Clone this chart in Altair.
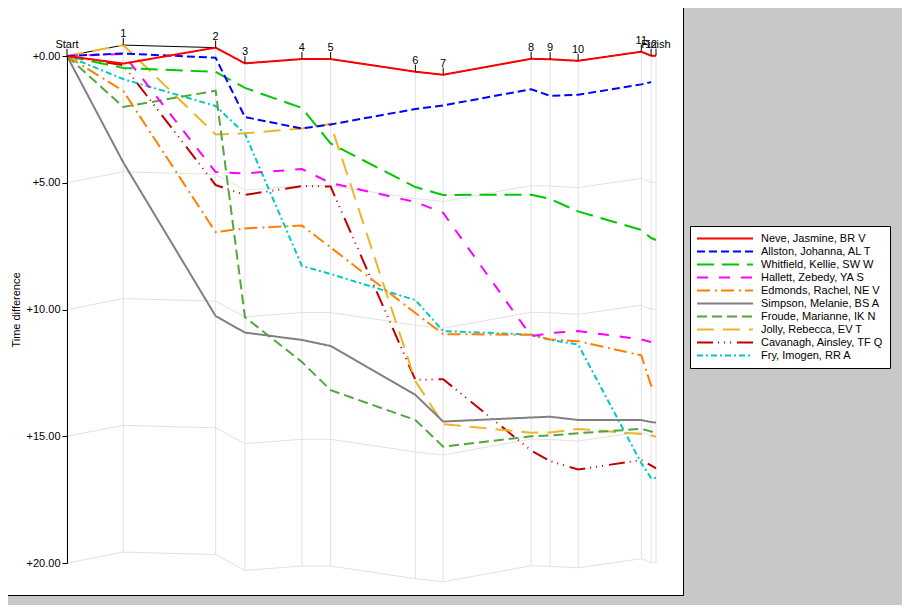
import altair as alt
import pandas as pd

# ---------------- data ----------------
controls = ["Start", "1", "2", "3", "4", "5", "6", "7", "8", "9", "10", "11", "12", "Finish"]
# cumulative reference time (minutes) at each control
ref_minutes = [0, 5.63, 14.87, 17.80, 23.50, 26.37, 34.85, 37.63, 46.43, 48.33, 51.13, 57.45, 58.43, 58.92]

runners = [
    "Neve, Jasmine, BR V",
    "Allston, Johanna, AL T",
    "Whitfield, Kellie, SW W",
    "Hallett, Zebedy, YA S",
    "Edmonds, Rachel, NE V",
    "Simpson, Melanie, BS A",
    "Froude, Marianne, IK N",
    "Jolly, Rebecca, EV T",
    "Cavanagh, Ainsley, TF Q",
    "Fry, Imogen, RR A",
]

# time difference (minutes) at each control; None = no time recorded
neve      = [0, 0.30, -0.33, 0.29, 0.12, 0.12, 0.62, 0.74, 0.11, 0.13, 0.19, -0.17, -0.01, -0.01]
allston   = [0, -0.10, 0.07, 2.41, 2.86, 2.70, 2.09, 1.95, 1.31, 1.57, 1.53, 1.12, 1.03, None]
whitfield = [0, 0.47, 0.63, 1.26, 2.05, 3.45, 5.17, 5.48, 5.47, 5.64, 6.13, 6.86, 7.18, 7.26]
hallett   = [0, -0.08, 4.58, 4.63, 4.46, 5.01, 5.76, 6.19, 11.05, 10.93, 10.85, 11.18, 11.28, None]
edmonds   = [0, 1.38, 6.95, 6.80, 6.69, 7.55, 10.14, 10.97, 11.00, 11.18, 11.25, 11.81, 13.00, 13.04]
simpson   = [0, 4.20, 10.26, 10.91, 11.20, 11.44, 13.37, 14.42, 14.26, 14.23, 14.36, 14.36, 14.44, 14.46]
froude    = [0, 2.01, 1.37, 10.30, 12.07, 13.18, 14.36, 15.41, 15.00, 14.97, 14.88, 14.71, 14.81, 14.85]
jolly     = [0, -0.43, 3.10, 3.05, 2.86, 2.68, 12.82, 14.52, 14.86, 14.85, 14.71, 14.91, 14.97, 15.02]
cavanagh  = [0, 0.36, 5.09, 5.48, 5.13, 5.15, 12.78, 12.75, 15.56, 15.98, 16.31, 15.94, 16.15, 16.27]
fry       = [0, 0.91, 1.97, 3.07, 8.28, 8.60, 9.63, 10.85, 10.99, 11.20, 11.38, 16.06, 16.65, 16.65]

series = [neve, allston, whitfield, hallett, edmonds, simpson, froude, jolly, cavanagh, fry]

colors = ["#ff0000", "#0000ff", "#00c800", "#ff00ff", "#ff8000",
          "#808080", "#4fa83d", "#f0b428", "#c00000", "#00c8c8"]
dashes = [[1, 0], [8, 4], [17, 8], [11, 11], [13, 5, 2, 4],
          [1, 0], [10, 5], [17, 9], [16, 5, 1, 5, 1, 5, 1, 6], [6, 3, 2, 3]]

y_ticks = [0, 5, 10, 15, 20]

FONT = "Liberation Sans"
GRID = "#e2e2e2"
TICK_LEN = 0.28

# ---------------- tables ----------------
rows = []
for order, (name, vals) in enumerate(zip(runners, series)):
    for c, r, v in zip(controls, ref_minutes, vals):
        if v is not None:
            rows.append({"runner": name, "control": c, "ref": r, "t": v, "ord": order})
lines_df = pd.DataFrame(rows)
# draw the first runner last (on top)
lines_df = lines_df.sort_values(["ord", "ref"], ascending=[False, True]).reset_index(drop=True)

base = lines_df.groupby("ref")["t"].min()
ctrl_df = pd.DataFrame({"control": controls, "ref": ref_minutes})
ctrl_df["t"] = ctrl_df["ref"].map(base)
ctrl_df["t20"] = ctrl_df["t"] + 20
ctrl_df["ttick"] = ctrl_df["t"] - TICK_LEN

grid_rows = []
for k in range(5):
    for r, b in zip(ctrl_df["ref"], ctrl_df["t"]):
        grid_rows.append({"ref": r, "t": b + 5 * k, "k": k})
grid_df = pd.DataFrame(grid_rows)

# ---------------- encodings ----------------
xscale = alt.Scale(domain=[0, ref_minutes[-1]], nice=False, zero=False)
yscale = alt.Scale(domain=[0, 20], reverse=True, nice=False, zero=False)

X = alt.X("ref:Q", scale=xscale,
          axis=alt.Axis(orient="top", title="Leg", labels=False, ticks=False, domain=False,
                        grid=False, titleX=274, titleY=-43, titleBaseline="middle",
                        titleFont=FONT, titleFontSize=11, titleFontWeight="normal",
                        titleColor="black"))
Y = alt.Y("t:Q", scale=yscale,
          axis=alt.Axis(values=y_ticks, labelExpr="'+' + format(datum.value, '.2f')",
                        grid=False, tickSize=5, tickColor="black", domainColor="black",
                        labelColor="black", labelFont=FONT, labelFontSize=11, labelPadding=2,
                        title="Time difference", titleFont=FONT, titleFontSize=11,
                        titleFontWeight="normal", titleColor="black", titleX=-48,
                        titleBaseline="alphabetic", zindex=1))

one = pd.DataFrame({"a": [0]})
bg = alt.Chart(one).mark_rect(
    fill="white", stroke="black", strokeWidth=1
).encode(x=alt.value(-60), x2=alt.value(616.5), y=alt.value(-49), y2=alt.value(539.5))

vgrid = alt.Chart(ctrl_df).mark_rule(color=GRID, strokeWidth=1).encode(
    x=X, y=Y, y2=alt.Y2("t20:Q"))

hgrid = alt.Chart(grid_df[grid_df["k"] > 0]).mark_line(color=GRID, strokeWidth=1).encode(
    x=X, y=Y, detail="k:N")

zero_line = alt.Chart(grid_df[grid_df["k"] == 0]).mark_line(color="black", strokeWidth=1).encode(
    x=X, y=Y)

ticks = alt.Chart(ctrl_df).mark_rule(color="black", strokeWidth=1).encode(
    x=X, y=Y, y2=alt.Y2("ttick:Q"))

legend_kw = dict(orient="none", legendX=623, legendY=170, title=None, padding=6,
                 fillColor="white", strokeColor="black", symbolType="stroke",
                 symbolSize=3136, symbolStrokeWidth=2, clipHeight=13,
                 labelFont=FONT, labelFontSize=11, labelColor="black", labelOffset=7,
                 rowPadding=0, labelLimit=300)

runs = alt.Chart(lines_df).mark_line(strokeWidth=2).encode(
    x=X, y=Y,
    color=alt.Color("runner:N", scale=alt.Scale(domain=runners, range=colors),
                    legend=alt.Legend(**legend_kw)),
    strokeDash=alt.StrokeDash("runner:N", scale=alt.Scale(domain=runners, range=dashes),
                              legend=alt.Legend(**legend_kw)),
    order=alt.Order("ref:Q"),
)

labels = alt.Chart(ctrl_df).mark_text(
    font=FONT, fontSize=11, color="black", align="center", baseline="alphabetic", dy=-8
).encode(x=X, y=Y, text="control:N")

chart = alt.layer(bg, vgrid, hgrid, zero_line, runs, ticks, labels).properties(
    width=589, height=507,
    padding={"left": 59, "top": 48, "right": 246, "bottom": 42},
    autosize=alt.AutoSizeParams(type="none"),
    background="#c8c8c8",
).configure_view(stroke="transparent")

chart.save("out.html", embed_options={"renderer": "svg", "actions": False})
